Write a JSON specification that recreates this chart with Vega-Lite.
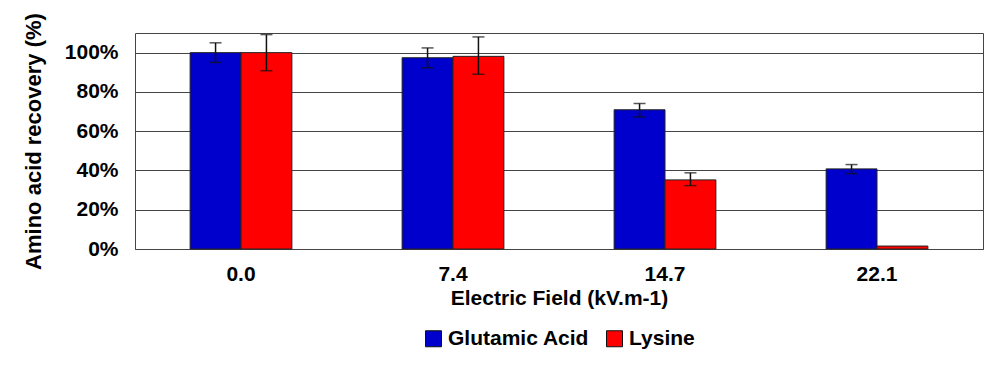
{
  "$schema": "https://vega.github.io/schema/vega-lite/v6.json",
  "width": 848,
  "height": 216,
  "autosize": {"type": "none"},
  "padding": {"left": 135, "top": 33, "right": 15, "bottom": 126},
  "background": "white",
  "data": {
    "values": [
      {"field": "0.0", "acid": "Glutamic Acid", "value": 1.0, "lo": 0.95, "hi": 1.05},
      {"field": "0.0", "acid": "Lysine", "value": 1.0, "lo": 0.908, "hi": 1.092},
      {"field": "7.4", "acid": "Glutamic Acid", "value": 0.974, "lo": 0.923, "hi": 1.024},
      {"field": "7.4", "acid": "Lysine", "value": 0.981, "lo": 0.89, "hi": 1.08},
      {"field": "14.7", "acid": "Glutamic Acid", "value": 0.709, "lo": 0.673, "hi": 0.741},
      {"field": "14.7", "acid": "Lysine", "value": 0.352, "lo": 0.323, "hi": 0.388},
      {"field": "22.1", "acid": "Glutamic Acid", "value": 0.408, "lo": 0.384, "hi": 0.43},
      {"field": "22.1", "acid": "Lysine", "value": 0.015, "lo": null, "hi": null}
    ]
  },
  "encoding": {
    "x": {
      "field": "field",
      "type": "nominal",
      "sort": ["0.0", "7.4", "14.7", "22.1"],
      "scale": {"paddingInner": 0.52, "paddingOuter": 0.26},
      "axis": {
        "title": "Electric Field (kV.m-1)",
        "labelAngle": 0,
        "ticks": false,
        "domain": false,
        "labelPadding": 14,
        "titlePadding": 3
      }
    },
    "xOffset": {
      "field": "acid",
      "type": "nominal",
      "sort": ["Glutamic Acid", "Lysine"],
      "scale": {"paddingInner": 0, "paddingOuter": 0}
    }
  },
  "layer": [
    {
      "mark": {"type": "bar", "stroke": "#222222", "strokeWidth": 1},
      "encoding": {
        "y": {
          "field": "value",
          "type": "quantitative",
          "scale": {"domain": [0, 1.1], "nice": false},
          "axis": {
            "title": "Amino acid recovery (%)",
            "titleFontSize": 22,
            "format": ".0%",
            "values": [0, 0.2, 0.4, 0.6, 0.8, 1.0],
            "ticks": false,
            "domain": false,
            "labelPadding": 17,
            "titlePadding": 19,
            "grid": true
          }
        },
        "color": {
          "field": "acid",
          "type": "nominal",
          "sort": ["Glutamic Acid", "Lysine"],
          "scale": {"domain": ["Glutamic Acid", "Lysine"], "range": ["#0000CC", "#FF0000"]},
          "legend": {
            "title": null,
            "orient": "bottom",
            "direction": "horizontal",
            "symbolType": "square",
            "symbolSize": 256,
            "symbolStrokeColor": "#111111",
            "symbolStrokeWidth": 1,
            "symbolOpacity": 1,
            "labelFontSize": 21,
            "labelFont": "Liberation Sans",
            "labelFontWeight": "bold",
            "labelColor": "#000000",
            "labelOffset": 4,
            "columnPadding": 14,
            "offset": 20
          }
        }
      }
    },
    {
      "mark": {"type": "rule", "color": "#111111", "strokeWidth": 1.5},
      "encoding": {
        "y": {"field": "lo", "type": "quantitative"},
        "y2": {"field": "hi"}
      }
    },
    {
      "mark": {"type": "tick", "color": "#111111", "thickness": 1.5, "size": 12},
      "encoding": {
        "y": {"field": "lo", "type": "quantitative"}
      }
    },
    {
      "mark": {"type": "tick", "color": "#111111", "thickness": 1.5, "size": 12},
      "encoding": {
        "y": {"field": "hi", "type": "quantitative"}
      }
    }
  ],
  "config": {
    "font": "Liberation Sans",
    "view": {"stroke": "#444444", "strokeWidth": 1},
    "legend": {
      "layout": {"bottom": {"anchor": "middle"}}
    },
    "axis": {
      "labelFont": "Liberation Sans",
      "labelFontSize": 21,
      "labelFontWeight": "bold",
      "labelColor": "#000000",
      "titleFont": "Liberation Sans",
      "titleFontSize": 21,
      "titleFontWeight": "bold",
      "titleColor": "#000000",
      "gridColor": "#444444",
      "gridWidth": 1,
      "gridOpacity": 1
    }
  }
}
